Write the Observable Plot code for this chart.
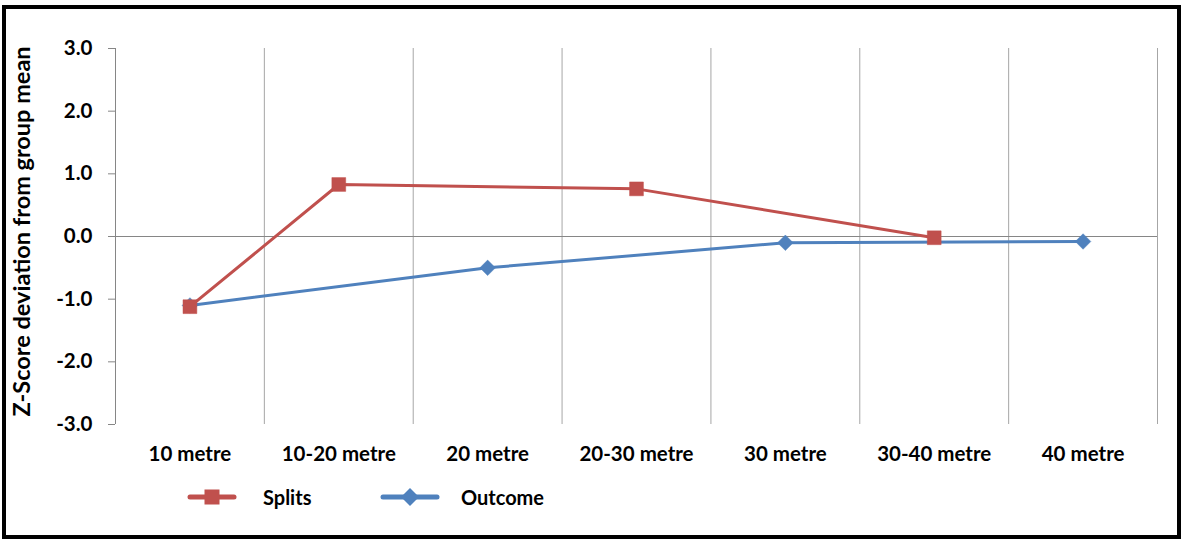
<!DOCTYPE html>
<html>
<head>
<meta charset="utf-8">
<script src="https://cdn.jsdelivr.net/npm/d3@7"></script>
<script src="https://cdn.jsdelivr.net/npm/@observablehq/plot@0.6"></script>
<style>
  html, body { margin: 0; padding: 0; background: #fff; }
  body { width: 1187px; height: 543px; position: relative; overflow: hidden; font-family: Lato, "Open Sans", sans-serif; }
  #frame { position: absolute; left: 2px; top: 5px; width: 1179px; height: 534px; border: 4px solid #000; box-sizing: border-box; pointer-events: none; }
  #chart { position: absolute; left: 0; top: 0; }
  #legend { position: absolute; top: 485px; left: 0; height: 24px; width: 1187px; font: bold 20px Lato, sans-serif; color: #000; }
  .item { position: absolute; top: 0; height: 24px; display: flex; align-items: center; }
  .item svg { display: block; }
</style>
</head>
<body>
<div id="chart"></div>
<div id="legend"></div>
<div id="frame"></div>
<script>
const categories = ["10 metre", "10-20 metre", "20 metre", "20-30 metre", "30 metre", "30-40 metre", "40 metre"];
const splitsCategories = ["10 metre", "10-20 metre", "20-30 metre", "30-40 metre"];
const splitsValues = [-1.12, 0.83, 0.76, -0.02];
const outcomeCategories = ["10 metre", "20 metre", "30 metre", "40 metre"];
const outcomeValues = [-1.10, -0.50, -0.10, -0.08];
const yTicks = [-3, -2, -1, 0, 1, 2, 3];
const yTitle = "Z-Score deviation from group mean";

const red = "#C0504D", blue = "#4F81BD";
const pos = c => categories.indexOf(c) + 0.5;
const splits = splitsCategories.map((c, i) => ({x: pos(c), y: splitsValues[i]}));
const outcome = outcomeCategories.map((c, i) => ({x: pos(c), y: outcomeValues[i]}));
const boundaries = d3.range(1, categories.length + 1);
const centers = categories.map((c) => pos(c));

const chart = Plot.plot({
  width: 1187,
  height: 470,
  marginLeft: 115,
  marginRight: 30,
  marginTop: 48,
  marginBottom: 46,
  style: {fontFamily: "Lato, sans-serif", fontWeight: "bold", fontSize: "20.5px", color: "#000", background: "transparent"},
  x: {domain: [0, categories.length]},
  y: {domain: [-3, 3]},
  marks: [
    Plot.ruleX(boundaries, {y1: -3, y2: 3, stroke: "#a6a6a6", strokeWidth: 1}),
    Plot.ruleY([0], {stroke: "#868686", strokeWidth: 1}),
    Plot.ruleX([0], {y1: -3, y2: 3, stroke: "#868686", strokeWidth: 1}),
    Plot.axisY({ticks: yTicks, tickFormat: d => d.toFixed(1), tickSize: 7, tickPadding: 16, stroke: "#868686", label: null, fill: "#000"}),
    Plot.axisX({ticks: centers, tickFormat: v => categories[Math.round(v - 0.5)], tickSize: 0, tickPadding: 22, label: null, fill: "#000"}),
    Plot.text([yTitle], {frameAnchor: "left", rotate: -90, dx: -93, dy: -5, fontWeight: "bold", fontSize: 23.5, fill: "#000", textAnchor: "middle", lineAnchor: "middle"}),
    Plot.line(outcome, {x: "x", y: "y", stroke: blue, strokeWidth: 3}),
    Plot.line(splits, {x: "x", y: "y", stroke: red, strokeWidth: 3}),
    Plot.dot(outcome, {x: "x", y: "y", symbol: "diamond2", r: 7, fill: blue, stroke: blue, strokeWidth: 0.5}),
    Plot.dot(splits, {x: "x", y: "y", symbol: "square", r: 7.8, fill: red, stroke: red, strokeWidth: 0.5})
  ]
});
document.getElementById("chart").appendChild(chart);

const legendItems = [
  {name: "Splits", color: red, symbol: "square", left: 187},
  {name: "Outcome", color: blue, symbol: "diamond", left: 380}
];
const legend = document.getElementById("legend");
for (const it of legendItems) {
  const div = document.createElement("div");
  div.className = "item";
  div.style.left = it.left + "px";
  const w = it.symbol === "square" ? 50 : 60;
  const cx = w / 2;
  const sym = it.symbol === "square"
    ? `<rect x="${cx - 7.5}" y="4.5" width="15" height="15" fill="${it.color}"/>`
    : `<path d="M${cx},3 L${cx + 9},12 L${cx},21 L${cx - 9},12 Z" fill="${it.color}"/>`;
  div.innerHTML = `<svg width="${w}" height="24"><line x1="3" y1="12" x2="${w - 3}" y2="12" stroke="${it.color}" stroke-width="5" stroke-linecap="round"/>${sym}</svg><span style="margin-left:${it.symbol === "square" ? 26 : 21}px">${it.name}</span>`;
  legend.appendChild(div);
}
</script>
</body>
</html>
